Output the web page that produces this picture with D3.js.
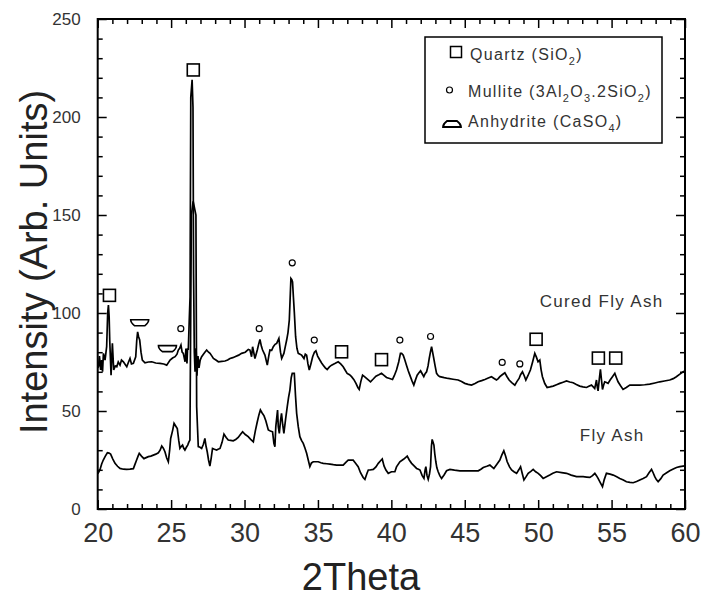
<!DOCTYPE html>
<html>
<head>
<meta charset="utf-8">
<script src="https://cdn.jsdelivr.net/npm/d3@7"></script>
<style>
body { margin: 0; background: #fff; }
svg text { font-family: "Liberation Sans", Arial, sans-serif; }
</style>
</head>
<body>
<div id="chart"></div>
<script>
// [2theta, intensity]
var curedFlyAsh = [
[20.0,72],[20.05,72.6],[20.12,78],[20.2,71],[20.27,76],[20.33,70],[20.39,79.4],[20.5,76],[20.61,82.8],[20.68,100],[20.73,104],[20.78,98],[20.82,86],[20.91,68.3],[21.0,84.5],[21.09,70.9],[21.2,73],[21.3,72.6],[21.4,75],[21.52,73.4],[21.62,76],[21.75,75.1],[21.85,74],[21.98,72.6],[22.1,75],[22.2,76.8],[22.3,74],[22.43,74.3],[22.59,77.7],[22.66,86],[22.72,90.4],[22.78,88],[22.86,86.2],[22.95,80],[23.04,76],[23.22,74.6],[23.45,75],[23.68,75.1],[23.95,74.5],[24.24,74.3],[24.5,74],[24.7,73.4],[24.93,76],[25.1,77],[25.27,77.7],[25.4,79],[25.49,81.1],[25.58,82],[25.67,83.6],[25.75,80],[25.83,79.4],[25.95,75.1],[26.01,81.9],[26.08,74.3],[26.12,82],[26.17,81.1],[26.23,95],[26.29,108.3],[26.34,210],[26.43,219],[26.49,205],[26.53,120],[26.58,80],[26.63,70],[26.7,82],[26.76,68],[26.83,78],[26.9,72],[26.98,76],[27.08,77.7],[27.2,79],[27.3,80],[27.42,81.1],[27.55,80],[27.65,79.4],[27.78,78],[27.88,76.8],[28.05,76],[28.22,75.1],[28.45,75.3],[28.67,75.5],[28.85,76],[29.01,76.8],[29.2,77.2],[29.35,77.7],[29.6,78.5],[29.8,79.4],[30.05,80],[30.26,81.4],[30.37,81.1],[30.48,77.7],[30.55,82.8],[30.71,76.8],[30.87,81.1],[30.96,84],[31.05,86.5],[31.15,83],[31.23,81.1],[31.39,78.5],[31.55,73.4],[31.65,78],[31.73,81.1],[31.85,81],[31.96,82.8],[32.08,84],[32.19,84.5],[32.28,86],[32.34,87],[32.45,80],[32.53,76.8],[32.68,79.4],[32.78,83],[32.87,86.2],[32.96,90],[33.05,96.4],[33.12,110],[33.16,117.6],[33.22,117],[33.27,115.9],[33.33,108],[33.39,100.6],[33.48,87.9],[33.57,82],[33.66,79.4],[33.78,79],[33.89,78.5],[34.05,76.8],[34.14,79],[34.23,78.5],[34.32,74],[34.41,70.9],[34.52,74],[34.64,77.7],[34.76,80],[34.86,80.7],[34.98,78],[35.13,76],[35.25,74.5],[35.36,73.4],[35.5,72],[35.63,71.2],[35.78,72.5],[35.93,73.4],[36.15,74.2],[36.38,75.1],[36.55,74],[36.72,72.6],[36.86,70.8],[36.99,69.2],[37.15,68.5],[37.29,67.5],[37.45,66],[37.59,64.1],[37.72,62],[37.81,61],[37.92,65],[38.04,68.3],[38.17,67.5],[38.31,66.6],[38.45,65.7],[38.58,64.9],[38.75,66.2],[38.95,67.8],[39.15,68.5],[39.33,69.2],[39.5,68.2],[39.67,67.1],[39.88,66.6],[40.08,66.1],[40.2,68],[40.35,70.9],[40.5,75],[40.62,79.4],[40.7,79.4],[40.81,78.5],[40.92,76],[41.03,73.4],[41.15,70.5],[41.26,68.3],[41.4,65.5],[41.53,63.2],[41.65,66],[41.76,68.3],[41.88,69.5],[41.99,70.5],[42.1,69],[42.21,67.5],[42.3,69],[42.4,70],[42.5,73],[42.58,76.8],[42.66,80],[42.74,82.8],[42.81,80],[42.89,76.8],[42.98,73],[43.08,69.2],[43.2,68],[43.3,67.5],[43.6,67],[43.87,66.6],[44.2,66.2],[44.55,65.8],[44.78,65],[45.0,64.1],[45.23,63.6],[45.46,63.2],[45.7,64],[45.91,64.9],[46.15,65.5],[46.37,66.1],[46.6,66.8],[46.82,67.5],[47.0,66.6],[47.16,65.8],[47.28,66.5],[47.39,67.5],[47.55,68.5],[47.73,69.5],[47.88,67.5],[48.02,65.8],[48.2,64.5],[48.41,63.2],[48.55,65],[48.7,66.6],[48.8,68.5],[48.93,70],[49.05,68],[49.16,65.8],[49.3,68],[49.47,70.9],[49.62,75],[49.77,79.4],[49.88,77.5],[49.99,75.1],[50.11,76],[50.2,71],[50.29,67.5],[50.45,64],[50.61,62],[50.8,62.3],[51.02,62.7],[51.25,63.4],[51.47,64.1],[51.7,64.7],[51.93,65.3],[52.15,64.8],[52.38,64.4],[52.6,63.5],[52.83,62.7],[53.05,62.3],[53.29,62],[53.45,62.6],[53.63,63.2],[53.75,62.3],[53.85,61.5],[53.92,64],[53.97,65.8],[54.03,62],[54.08,60.3],[54.16,66],[54.24,71.2],[54.31,66],[54.38,61],[54.45,63],[54.53,64.9],[54.65,64.5],[54.76,64.1],[54.9,65.8],[55.06,67.5],[55.22,69.2],[55.33,67],[55.44,64.9],[55.6,63],[55.78,61],[56.0,62],[56.24,63.2],[56.6,63.2],[56.92,63.2],[57.25,63.4],[57.6,63.7],[57.95,64.3],[58.28,64.9],[58.6,65.3],[58.96,65.8],[59.2,66.5],[59.41,67.5],[59.65,68.8],[59.87,70],[60.0,70.4]
];

var flyAsh = [
[20.0,18],[20.08,19],[20.16,20.2],[20.27,23],[20.38,25],[20.52,27],[20.66,28.7],[20.77,28.5],[20.88,28],[21.03,25.5],[21.18,23.3],[21.35,21.8],[21.52,20.7],[21.75,20.3],[21.97,20.2],[22.2,20.3],[22.43,20.6],[22.55,23],[22.65,25],[22.75,27],[22.83,28.4],[22.98,27],[23.15,25.7],[23.3,26.2],[23.45,26.7],[23.62,27],[23.79,27.5],[23.96,28],[24.13,28.7],[24.25,30],[24.36,32.1],[24.47,31],[24.58,29.2],[24.7,26],[24.81,24.1],[24.9,30],[24.97,36],[25.1,40],[25.2,43.7],[25.3,42.5],[25.42,41.1],[25.52,35],[25.6,31],[25.7,32],[25.78,32.6],[25.86,31],[25.94,30.1],[26.04,31.5],[26.13,32.6],[26.2,34],[26.28,35.2],[26.38,150],[26.5,157],[26.69,150],[26.74,52.2],[26.85,31.8],[26.97,31.5],[27.08,30.9],[27.2,33],[27.3,36],[27.38,32],[27.46,29.2],[27.55,25],[27.64,21.9],[27.73,26],[27.82,30.9],[27.95,30.5],[28.1,30.1],[28.2,30.5],[28.33,30.9],[28.47,34],[28.6,38.2],[28.75,36.5],[28.89,35.2],[29.05,35],[29.23,34.8],[29.4,35.5],[29.57,36.5],[29.72,38],[29.87,39.4],[30.05,38],[30.25,36.9],[30.42,35.5],[30.6,34.3],[30.74,40],[30.87,44.5],[30.98,48],[31.08,50.6],[31.2,49],[31.33,47.5],[31.45,45],[31.62,40.3],[31.76,39.8],[31.91,39.4],[32.0,33.5],[32.07,31.8],[32.13,42],[32.2,47],[32.25,50.5],[32.3,42],[32.37,38.6],[32.45,45],[32.52,48.8],[32.6,43],[32.68,38.6],[32.8,46],[32.91,52.2],[33.0,57],[33.09,60.7],[33.18,67],[33.25,69.2],[33.39,69.2],[33.47,58],[33.55,48.8],[33.66,42],[33.77,36.9],[33.88,35],[34.0,33.5],[34.12,31],[34.23,28.4],[34.34,25],[34.45,21.6],[34.56,23.5],[34.68,24.1],[34.85,24.1],[35.02,24.1],[35.2,23.6],[35.36,23.3],[35.6,23.1],[35.82,22.9],[36.05,22.6],[36.27,22.4],[36.5,22.4],[36.72,22.4],[36.9,23.8],[37.06,24.9],[37.23,24.9],[37.4,24.9],[37.55,23.5],[37.74,21.6],[37.9,18.5],[38.08,16.1],[38.2,15.1],[38.33,18],[38.43,19.9],[38.54,19.9],[38.77,20.2],[38.95,21.5],[39.11,23.3],[39.25,24.5],[39.38,25.5],[39.5,22],[39.63,19.9],[39.79,18.2],[40.01,19],[40.24,19],[40.35,21.5],[40.58,24.1],[40.85,25.5],[41.08,27],[41.22,25],[41.38,23.3],[41.55,22],[41.72,20.7],[41.85,20.3],[41.95,19.9],[42.1,17],[42.22,15.6],[42.3,20],[42.35,21.6],[42.43,17],[42.51,15.1],[42.6,18],[42.67,21.6],[42.73,32],[42.78,35.5],[42.84,34],[42.9,32.6],[42.96,28],[43.03,24.1],[43.1,21],[43.19,19],[43.3,17],[43.42,15.6],[43.6,17.5],[43.76,19.5],[43.99,20.2],[44.3,19.8],[44.67,19.5],[45.0,19.5],[45.35,19.5],[45.65,19.5],[45.92,19.5],[46.1,20.3],[46.26,21.2],[46.5,21.8],[46.71,22.4],[46.85,21.5],[46.98,20.7],[47.2,23],[47.39,25],[47.52,27.5],[47.66,29.7],[47.78,27],[47.89,24.1],[48.05,21.5],[48.19,19.9],[48.35,19],[48.53,18.2],[48.68,20],[48.8,21.6],[48.92,18],[49.03,14.8],[49.18,16.5],[49.32,18.2],[49.5,19.2],[49.66,20.2],[49.83,19],[50.0,18.2],[50.17,17],[50.34,15.6],[50.56,16.5],[50.79,17.3],[51.0,18.2],[51.25,19],[51.6,18.6],[51.93,18.2],[52.25,17.3],[52.61,16.5],[52.85,16.5],[53.06,16.5],[53.3,16.3],[53.52,16.1],[53.7,17],[53.86,18.2],[53.97,17],[54.08,15.6],[54.23,13.5],[54.38,11.4],[54.5,15],[54.65,18.2],[54.9,17.8],[55.11,17.3],[55.35,16.5],[55.56,15.6],[55.8,14.8],[56.01,13.9],[56.25,13.6],[56.47,13.4],[56.7,14],[56.92,14.8],[57.15,15.6],[57.38,16.5],[57.55,18.5],[57.72,20.2],[57.83,18.5],[57.94,16.5],[58.05,15],[58.17,13.9],[58.35,15.5],[58.51,17.3],[58.75,18.5],[58.96,19.5],[59.2,20.4],[59.42,21.2],[59.65,21.6],[59.87,21.9],[60.0,22]
];

// phase markers [2theta, intensity]
var quartzPeaks = [[20.8,109],[26.51,224],[36.61,80.2],[39.33,76.2],[49.86,86.6],[54.1,77],[55.28,77]];
var mullitePeaks = [[25.66,92],[31.0,92],[33.25,125.6],[34.75,86.2],[40.58,86.2],[42.67,88],[47.55,74.8],[48.75,74]];
var anhydritePeaks = [[22.86,95],[24.75,81.8]];

var legendLabels = ["Quartz (SiO_2)", "Mullite (3Al_2O_3.2SiO_2)", "Anhydrite (CaSO_4)"];
var seriesNames = ["Cured Fly Ash", "Fly Ash"];

var xMajor = [20, 25, 30, 35, 40, 45, 50, 55, 60];
var xMinor = d3.range(21, 60).filter(function(d) { return d % 5 != 0; });
var yMajor = [0, 50, 100, 150, 200, 250];
var yMinor = d3.range(10, 250, 10).filter(function(d) { return d % 50 != 0; });

var width = 701, height = 597;
var plotLeft = 97.7, plotRight = 685, plotTop = 19, plotBottom = 509;

var svg = d3.select("#chart").append("svg")
    .attr("width", width)
    .attr("height", height);

var x = d3.scaleLinear().domain([20, 60]).range([plotLeft, plotRight]);
var y = d3.scaleLinear().domain([0, 250]).range([plotBottom, plotTop]);

function tickAxis(axis, tx, ty) {
  var g = svg.append("g")
    .attr("transform", "translate(" + tx + "," + ty + ")")
    .call(axis);
  g.select(".domain").remove();
  g.selectAll(".tick line").attr("stroke", "#000").attr("stroke-width", 1.5);
  g.selectAll(".tick text").filter(function() { return this.textContent === ""; }).remove();
  return g;
}

// bottom
var gx = tickAxis(d3.axisBottom(x).tickValues(xMajor).tickSize(-9).tickPadding(14).tickFormat(d3.format("d")), 0, plotBottom);
gx.selectAll("text").attr("font-size", 27).attr("fill", "#333").attr("font-family", "Liberation Sans, Arial, sans-serif");
tickAxis(d3.axisBottom(x).tickValues(xMinor).tickSize(-5).tickFormat(""), 0, plotBottom);
// top
tickAxis(d3.axisTop(x).tickValues(xMajor).tickSize(-9).tickFormat(""), 0, plotTop);
tickAxis(d3.axisTop(x).tickValues(xMinor).tickSize(-5).tickFormat(""), 0, plotTop);
// left
var gy = tickAxis(d3.axisLeft(y).tickValues(yMajor).tickSize(-9).tickPadding(17).tickFormat(d3.format("d")), plotLeft, 0);
gy.selectAll("text").attr("font-size", 17).attr("fill", "#333").attr("font-family", "Liberation Sans, Arial, sans-serif");
tickAxis(d3.axisLeft(y).tickValues(yMinor).tickSize(-5).tickFormat(""), plotLeft, 0);
// right
tickAxis(d3.axisRight(y).tickValues(yMajor).tickSize(-9).tickFormat(""), plotRight, 0);
tickAxis(d3.axisRight(y).tickValues(yMinor).tickSize(-5).tickFormat(""), plotRight, 0);

svg.append("rect")
  .attr("x", plotLeft).attr("y", plotTop)
  .attr("width", plotRight - plotLeft).attr("height", plotBottom - plotTop)
  .attr("fill", "none").attr("stroke", "#000").attr("stroke-width", 2);

// curves
var line = d3.line().x(function(d) { return x(d[0]); }).y(function(d) { return y(d[1]); });
svg.selectAll(".scan")
  .data([flyAsh, curedFlyAsh])
  .enter().append("path")
  .attr("class", "scan")
  .attr("d", line)
  .attr("fill", "none")
  .attr("stroke", "#000")
  .attr("stroke-width", 1.7)
  .attr("stroke-linejoin", "miter");

// markers
var anhydritePath = "M-9,-3L9,-3Q9,0 5,3L-5,3Q-9,0 -9,-3Z";

svg.selectAll(".quartz")
  .data(quartzPeaks)
  .enter().append("rect")
  .attr("x", function(d) { return x(d[0]) - 6; })
  .attr("y", function(d) { return y(d[1]) - 6; })
  .attr("width", 12).attr("height", 12)
  .attr("fill", "none").attr("stroke", "#000").attr("stroke-width", 1.6);

svg.selectAll(".mullite")
  .data(mullitePeaks)
  .enter().append("circle")
  .attr("cx", function(d) { return x(d[0]); })
  .attr("cy", function(d) { return y(d[1]); })
  .attr("r", 3)
  .attr("fill", "none").attr("stroke", "#000").attr("stroke-width", 1.2);

svg.selectAll(".anhydrite")
  .data(anhydritePeaks)
  .enter().append("path")
  .attr("d", anhydritePath)
  .attr("transform", function(d) { return "translate(" + x(d[0]) + "," + y(d[1]) + ")"; })
  .attr("fill", "none").attr("stroke", "#000").attr("stroke-width", 1.6);

// series names
svg.append("text").attr("x", x(50.11)).attr("y", y(103))
  .attr("font-size", 17).attr("letter-spacing", 1.3).attr("fill", "#333")
  .text(seriesNames[0]);
svg.append("text").attr("x", x(52.83)).attr("y", y(34.7))
  .attr("font-size", 17).attr("letter-spacing", 1.3).attr("fill", "#333")
  .text(seriesNames[1]);

// legend
var legend = svg.append("g");
legend.append("rect")
  .attr("x", 425).attr("y", 37).attr("width", 237).attr("height", 106)
  .attr("fill", "#fff").attr("stroke", "#000").attr("stroke-width", 1.5);

var legendRows = [
  {sym: "square", sx: 456, sy: 52, tx: 470, ty: 60},
  {sym: "circle", sx: 449.5, sy: 90, tx: 468, ty: 97},
  {sym: "anhydrite", sx: 452, sy: 124, tx: 468, ty: 127}
];

legendRows.forEach(function(r, i) {
  if (r.sym == "square") {
    legend.append("rect").attr("x", r.sx - 5.5).attr("y", r.sy - 5.5).attr("width", 11).attr("height", 11)
      .attr("fill", "none").attr("stroke", "#000").attr("stroke-width", 1.5);
  } else if (r.sym == "circle") {
    legend.append("circle").attr("cx", r.sx).attr("cy", r.sy).attr("r", 3)
      .attr("fill", "none").attr("stroke", "#000").attr("stroke-width", 1.2);
  } else {
    legend.append("path").attr("d", anhydritePath)
      .attr("transform", "translate(" + r.sx + "," + r.sy + ") rotate(180)")
      .attr("fill", "none").attr("stroke", "#000").attr("stroke-width", 1.8);
  }
  var t = legend.append("text").attr("x", r.tx).attr("y", r.ty)
    .attr("font-size", 16).attr("letter-spacing", 1.3).attr("fill", "#333");
  // "_n" marks a subscript digit
  var parts = legendLabels[i].split(/_(\d)/);
  var shift = 0;
  parts.forEach(function(p, j) {
    if (p === "") return;
    var sub = j % 2 == 1;
    var target = sub ? 5 : 0;
    var ts = t.append("tspan").attr("dy", target - shift).text(p);
    if (sub) ts.attr("font-size", 11);
    shift = target;
  });
});

// axis titles
svg.append("text")
  .attr("x", 361).attr("y", 590)
  .attr("text-anchor", "middle")
  .attr("font-size", 38).attr("fill", "#222")
  .text("2Theta");

svg.append("text")
  .attr("transform", "translate(47,262) rotate(-90)")
  .attr("text-anchor", "middle")
  .attr("font-size", 38).attr("fill", "#222")
  .text("Intensity (Arb. Units)");
</script>
</body>
</html>
